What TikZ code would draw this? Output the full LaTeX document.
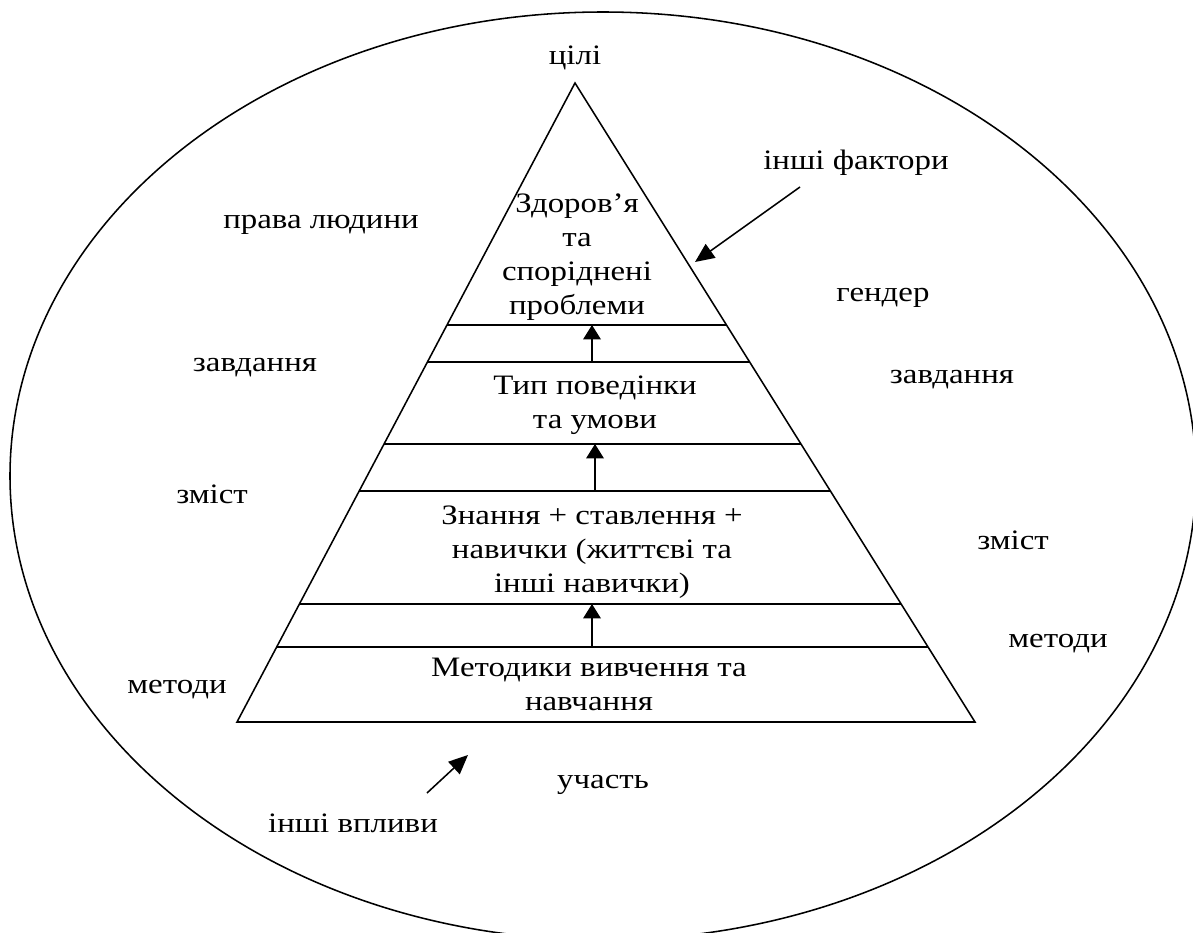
\documentclass[tikz,border=0pt]{standalone}
\usepackage{fontspec}
\setmainfont{Liberation Serif}[FakeStretch=1.17]
\usetikzlibrary{calc, arrows.meta}

\tikzset{
  txt/.style = {inner sep=0pt, align=center, font=\fontsize{20}{24.2}\selectfont},
  arr/.style = {line width=1.1pt, -{Triangle[length=0.36cm, width=0.44cm]}},
  diag/.style = {line width=1.1pt, -{Triangle[length=0.48cm, width=0.42cm]}},
}

\begin{document}
\begin{tikzpicture}[x=0.025cm, y=-0.025cm, line width=1.1pt]
\useasboundingbox (0,0) rectangle (1193,933);
\clip (0,0) rectangle (1193,933);

\draw (603,476) ellipse [x radius=593, y radius=464];

% pyramid
\coordinate (apex) at (575,83);
\coordinate (bl) at (237,722);
\coordinate (br) at (975,722);
\draw (apex) -- (bl) -- (br) -- cycle;
\foreach \yy/\nm in {325/a, 362/b, 444/c, 491/d, 604/e, 647/f}
  \draw ($(apex)!{(\yy-83)/639}!(bl)$) coordinate (lv\nm-w) -- ($(apex)!{(\yy-83)/639}!(br)$) coordinate (lv\nm-e);

\node[txt] (zdorov) at (577,257) {Здоров’я\\та\\споріднені\\проблеми};
\node[txt] (typ) at (595,405) {Тип поведінки\\та умови};
\node[txt] (znannia) at (592,552) {Знання + ставлення +\\навички (життєві та\\інші навички)};
\node[txt] (metodyky) at (589,684) {Методики вивчення та\\навчання};

\path (592,362) coordinate (s1) (592,325) coordinate (t1)
      (595,491) coordinate (s2) (595,444) coordinate (t2)
      (592,647) coordinate (s3) (592,604) coordinate (t3);
\draw[arr] (s1) -- (t1);
\draw[arr] (s2) -- (t2);
\draw[arr] (s3) -- (t3);

% around the pyramid
\node[txt] (tsili) at (575,58) {цілі};
\node[txt] (faktory) at (856,163) {інші фактори};
\node[txt] (prava) at (321,225) {права людини};
\node[txt] (gender) at (883,298) {гендер};
\node[txt] (zavd1) at (255,368) {завдання};
\node[txt] (zavd2) at (952,380) {завдання};
\node[txt] (zmist1) at (212,494) {зміст};
\node[txt] (zmist2) at (1013,540) {зміст};
\node[txt] (metody1) at (177,690) {методи};
\node[txt] (metody2) at (1058,644) {методи};
\node[txt] (uchast) at (603,785) {участь};
\node[txt] (vplyvy) at (353,823) {інші впливи};

\coordinate (f0) at (800,187);
\coordinate (f1) at (695,262);
\coordinate (v0) at (427,793);
\coordinate (v1) at (468,755);
\draw[diag] (f0) -- (f1);
\draw[diag] (v0) -- (v1);
\end{tikzpicture}
\end{document}
